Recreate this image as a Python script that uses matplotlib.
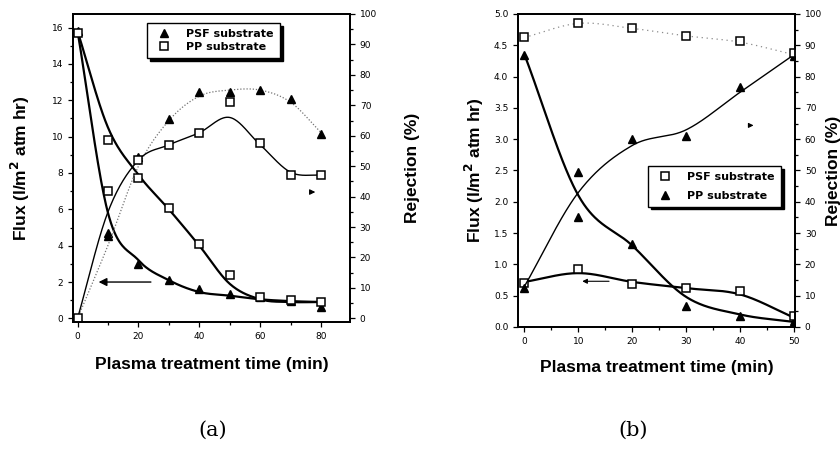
import numpy as np
import matplotlib.pyplot as plt
from matplotlib.lines import Line2D
from matplotlib.ticker import MultipleLocator, FormatStrFormatter

# ---- panel (a) data ----
time_a = [0, 10, 20, 30, 40, 50, 60, 70, 80]
flux_psf_a = [15.8, 4.7, 3.0, 2.1, 1.6, 1.35, 1.2, 0.95, 0.6]
flux_pp_a = [15.7, 9.8, 7.7, 6.1, 4.1, 2.4, 1.2, 1.0, 0.9]
rej_psf_a = [0, 27, 53, 65.5, 74.5, 74.5, 75, 72, 60.5]
rej_pp_a = [0, 42, 52, 57, 61, 71, 57.5, 47, 47]
# fitted curves
fit_flux_psf_a = [15.8, 5.8, 3.2, 2.1, 1.45, 1.25, 1.05, 0.95, 0.9]
fit_flux_pp_a = [15.8, 10.5, 7.9, 6.0, 4.0, 1.9, 1.05, 0.9, 0.9]
fit_rej_psf_a = [0, 24, 50, 65, 73, 75, 75, 71, 61]
fit_rej_pp_a = [0, 35, 52, 57, 61, 66, 57, 48, 47]

# ---- panel (b) data ----
time_b = [0, 10, 20, 30, 40, 50]
flux_psf_b = [0.7, 0.93, 0.68, 0.62, 0.58, 0.17]
flux_pp_b = [4.35, 1.75, 1.33, 0.33, 0.17, 0.1]
rej_psf_b = [92.5, 97, 95.4, 93, 91.4, 87.4]
rej_pp_b = [12.6, 49.6, 60, 61, 76.6, 86.6]
fit_flux_psf_b = [0.72, 0.86, 0.72, 0.62, 0.52, 0.15]
fit_flux_pp_b = [4.35, 2.1, 1.3, 0.48, 0.2, 0.08]
fit_rej_psf_b = [92.5, 97, 95.4, 93, 91, 87]
fit_rej_pp_b = [13, 43, 58, 63, 75, 87]


def smooth(x, y, n=300):
    # cubic Hermite curve through the read knots
    x = np.asarray(x, float)
    y = np.asarray(y, float)
    m = np.gradient(y, x)
    xs = np.linspace(x[0], x[-1], n)
    i = np.clip(np.searchsorted(x, xs) - 1, 0, len(x) - 2)
    h = x[i + 1] - x[i]
    t = (xs - x[i]) / h
    h00 = 2 * t**3 - 3 * t**2 + 1
    h10 = t**3 - 2 * t**2 + t
    h01 = -2 * t**3 + 3 * t**2
    h11 = t**3 - t**2
    ys = h00 * y[i] + h10 * h * m[i] + h01 * y[i + 1] + h11 * h * m[i + 1]
    return xs, ys


TICK_FAM = ["Liberation Sans Narrow", "DejaVu Sans"]
LAB = dict(fontsize=12.5, fontweight="bold", family=["Liberation Sans", "DejaVu Sans"])
TRI = dict(marker="^", ms=6, color="k", ls="none")
SQ = dict(marker="s", ms=5.5, mfc="white", mec="k", mew=1.1, ls="none")


def style(ax):
    for s in ax.spines.values():
        s.set_linewidth(1.3)
    ax.tick_params(which="both", direction="out", labelsize=6.5, width=0.9)
    ax.tick_params(which="major", length=3.5)
    ax.tick_params(which="minor", length=2)
    for lab in ax.get_xticklabels() + ax.get_yticklabels():
        lab.set_family(TICK_FAM)


def add_legend(ax, handles, anchor, spacing):
    leg = ax.legend(handles, ["PSF substrate", "PP substrate"], loc="upper left",
                    bbox_to_anchor=anchor, borderaxespad=0, frameon=True,
                    fancybox=False, edgecolor="k", framealpha=1,
                    handletextpad=1.0, borderpad=0.55, labelspacing=spacing,
                    prop=dict(size=8, weight="bold"),
                    shadow=dict(color="k", alpha=1))
    leg.get_frame().set_linewidth(1.0)


fig = plt.figure(figsize=(8.4, 4.51), dpi=100)

# ================= (a) =================
ax1 = fig.add_axes([0.0869, 0.286, 0.3298, 0.683])
ax2 = ax1.twinx()
ax1.set_xlim(-1.5, 89.5)
ax1.set_ylim(-0.2, 16.75)
ax2.set_ylim(-1.2, 100)

ax1.plot(*smooth(time_a, fit_flux_psf_a), color="k", lw=1.6)
ax1.plot(*smooth(time_a, fit_flux_pp_a), color="k", lw=1.6)
ax2.plot(*smooth(time_a, fit_rej_psf_a), color="0.45", lw=0.9, ls=(0, (1, 1.5)))
ax2.plot(*smooth(time_a, fit_rej_pp_a), color="k", lw=1.0)

ax1.plot(time_a, flux_psf_a, **TRI)
ax1.plot(time_a, flux_pp_a, **SQ)
ax2.plot(time_a, rej_psf_a, **TRI)
ax2.plot(time_a, rej_pp_a, **SQ)

ax1.annotate("", xy=(6, 2.0), xytext=(25, 2.0),
             arrowprops=dict(arrowstyle="-|>", color="k", lw=1.0, mutation_scale=12))
ax2.annotate("", xy=(79, 41.5), xytext=(76, 41.5),
             arrowprops=dict(arrowstyle="-|>", color="k", lw=0.8, mutation_scale=8))

ax1.set_xticks([0, 20, 40, 60, 80])
ax1.xaxis.set_minor_locator(MultipleLocator(10))
ax1.set_yticks(range(0, 17, 2))
ax1.yaxis.set_minor_locator(MultipleLocator(1))
ax2.set_yticks(range(0, 101, 10))
ax2.yaxis.set_minor_locator(MultipleLocator(5))
style(ax1)
style(ax2)

ax1.set_xlabel("Plasma treatment time (min)", labelpad=12, **LAB)
ax1.set_ylabel("Flux (l/m$^{\\mathbf{2}}$ atm hr)", labelpad=14, **LAB)
ax2.set_ylabel("Rejection (%)", labelpad=20, **LAB)

add_legend(ax2, [Line2D([], [], **TRI), Line2D([], [], **SQ)], (0.267, 0.971), 0.25)

# ================= (b) =================
ax3 = fig.add_axes([0.6167, 0.275, 0.3298, 0.694])
ax4 = ax3.twinx()
ax3.set_xlim(-1.2, 50.2)
ax3.set_ylim(0, 5.0)
ax4.set_ylim(0, 100)

ax3.plot(*smooth(time_b, fit_flux_pp_b), color="k", lw=1.6)
ax3.plot(*smooth(time_b, fit_flux_psf_b), color="k", lw=1.6)
ax4.plot(*smooth(time_b, fit_rej_psf_b), color="0.55", lw=0.9, ls=(0, (1, 3)))
ax4.plot(*smooth(time_b, fit_rej_pp_b), color="k", lw=1.0)

ax3.plot(time_b, flux_pp_b, **TRI)
ax3.plot(time_b, flux_psf_b, **SQ)
ax4.plot(time_b, rej_pp_b, **TRI)
ax4.plot(time_b, rej_psf_b, **SQ)

ax3.annotate("", xy=(10.2, 0.73), xytext=(16.2, 0.73),
             arrowprops=dict(arrowstyle="-|>", color="k", lw=0.8, mutation_scale=7))
ax3.annotate("", xy=(42.5, 3.22), xytext=(41.5, 3.22),
             arrowprops=dict(arrowstyle="-|>", color="k", lw=0.8, mutation_scale=7))

ax3.set_xticks(range(0, 51, 10))
ax3.xaxis.set_minor_locator(MultipleLocator(5))
ax3.set_yticks(np.arange(0, 5.01, 0.5))
ax3.yaxis.set_major_formatter(FormatStrFormatter("%.1f"))
ax4.set_yticks(range(0, 101, 10))
ax4.yaxis.set_minor_locator(MultipleLocator(5))
style(ax3)
style(ax4)

ax3.set_xlabel("Plasma treatment time (min)", labelpad=10, **LAB)
ax3.set_ylabel("Flux (l/m$^{\\mathbf{2}}$ atm hr)", labelpad=6, **LAB)
ax4.set_ylabel("Rejection (%)", labelpad=3, **LAB)

add_legend(ax4, [Line2D([], [], **SQ), Line2D([], [], **TRI)], (0.469, 0.514), 0.75)

fig.text(0.2536, 1 - 430 / 451, "(a)", ha="center", va="center",
         fontsize=15, family="DejaVu Serif")
fig.text(0.7536, 1 - 430 / 451, "(b)", ha="center", va="center",
         fontsize=15, family="DejaVu Serif")

fig.savefig("out.png", dpi=100)
